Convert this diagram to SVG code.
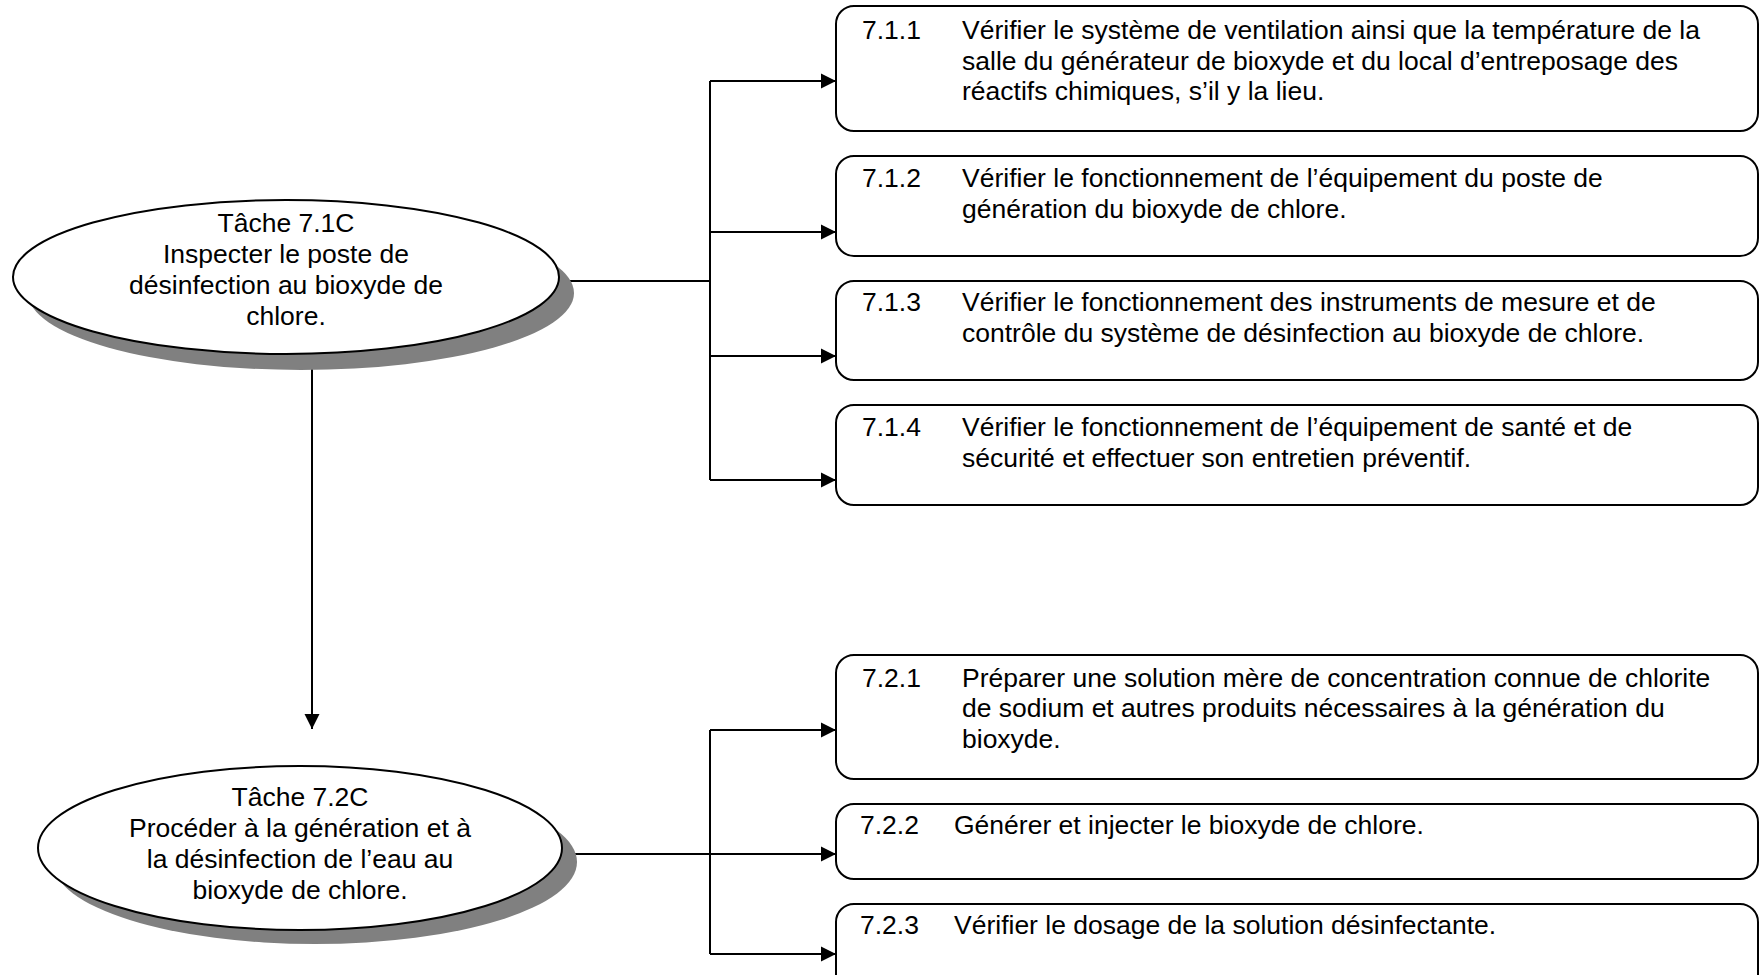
<svg xmlns="http://www.w3.org/2000/svg" width="1760" height="975" viewBox="0 0 1760 975">
  <defs>
    <marker id="arrow" markerWidth="16" markerHeight="16" refX="15" refY="8" orient="auto" markerUnits="userSpaceOnUse">
      <path d="M0,0.5 L15,8 L0,15.5 Z" fill="#000"/>
    </marker>
    <style>
      .box { fill: #fff; stroke: #000; stroke-width: 2; }
      .ell { fill: #fff; stroke: #000; stroke-width: 2; }
      .shadow { fill: #808080; stroke: none; }
      .conn { fill: none; stroke: #000; stroke-width: 2; }
      text { font-family: "Liberation Sans", Arial, sans-serif; font-size: 26.5px; fill: #000; }
      .mid { text-anchor: middle; }
    </style>
  </defs>
  <rect width="1760" height="975" fill="#fff"/>

  <!-- connectors -->
  <g id="connectors">
    <path class="conn" d="M559,281 H710"/>
    <path class="conn" d="M710,81 V480"/>
    <path class="conn" d="M710,81 H836" marker-end="url(#arrow)"/>
    <path class="conn" d="M710,232 H836" marker-end="url(#arrow)"/>
    <path class="conn" d="M710,356 H836" marker-end="url(#arrow)"/>
    <path class="conn" d="M710,480 H836" marker-end="url(#arrow)"/>
    <path class="conn" d="M312,354 V729" marker-end="url(#arrow)"/>
    <path class="conn" d="M562,854 H710"/>
    <path class="conn" d="M710,730 V954"/>
    <path class="conn" d="M710,730 H836" marker-end="url(#arrow)"/>
    <path class="conn" d="M710,854 H836" marker-end="url(#arrow)"/>
    <path class="conn" d="M710,954 H836" marker-end="url(#arrow)"/>
  </g>

  <!-- task 7.1C -->
  <g id="task-7-1C">
    <ellipse class="shadow" cx="301" cy="293" rx="273" ry="77"/>
    <ellipse class="ell" cx="286" cy="277" rx="273" ry="77"/>
    <text class="mid" x="286" y="232">Tâche 7.1C</text>
    <text class="mid" x="286" y="263">Inspecter le poste de</text>
    <text class="mid" x="286" y="294">désinfection au bioxyde de</text>
    <text class="mid" x="286" y="325">chlore.</text>
  </g>

  <!-- task 7.2C -->
  <g id="task-7-2C">
    <ellipse class="shadow" cx="315" cy="862" rx="262" ry="82"/>
    <ellipse class="ell" cx="300" cy="848" rx="262" ry="82"/>
    <text class="mid" x="300" y="806">Tâche 7.2C</text>
    <text class="mid" x="300" y="837">Procéder à la génération et à</text>
    <text class="mid" x="300" y="868">la désinfection de l’eau au</text>
    <text class="mid" x="300" y="899">bioxyde de chlore.</text>
  </g>

  <!-- sub-tasks 7.1.x -->
  <g id="step-7-1-1">
    <rect class="box" x="836" y="6" width="922" height="125" rx="18"/>
    <text x="862" y="39">7.1.1</text>
    <text x="962" y="39">Vérifier le système de ventilation ainsi que la température de la</text>
    <text x="962" y="70">salle du générateur de bioxyde et du local d’entreposage des</text>
    <text x="962" y="100">réactifs chimiques, s’il y la lieu.</text>
  </g>
  <g id="step-7-1-2">
    <rect class="box" x="836" y="156" width="922" height="100" rx="18"/>
    <text x="862" y="187">7.1.2</text>
    <text x="962" y="187">Vérifier le fonctionnement de l’équipement du poste de</text>
    <text x="962" y="218">génération du bioxyde de chlore.</text>
  </g>
  <g id="step-7-1-3">
    <rect class="box" x="836" y="281" width="922" height="99" rx="18"/>
    <text x="862" y="311">7.1.3</text>
    <text x="962" y="311">Vérifier le fonctionnement des instruments de mesure et de</text>
    <text x="962" y="342">contrôle du système de désinfection au bioxyde de chlore.</text>
  </g>
  <g id="step-7-1-4">
    <rect class="box" x="836" y="405" width="922" height="100" rx="18"/>
    <text x="862" y="436">7.1.4</text>
    <text x="962" y="436">Vérifier le fonctionnement de l’équipement de santé et de</text>
    <text x="962" y="467">sécurité et effectuer son entretien préventif.</text>
  </g>

  <!-- sub-tasks 7.2.x -->
  <g id="step-7-2-1">
    <rect class="box" x="836" y="655" width="922" height="124" rx="18"/>
    <text x="862" y="687">7.2.1</text>
    <text x="962" y="687">Préparer une solution mère de concentration connue de chlorite</text>
    <text x="962" y="717">de sodium et autres produits nécessaires à la génération du</text>
    <text x="962" y="748">bioxyde.</text>
  </g>
  <g id="step-7-2-2">
    <rect class="box" x="836" y="804" width="922" height="75" rx="18"/>
    <text x="860" y="834">7.2.2</text>
    <text x="954" y="834">Générer et injecter le bioxyde de chlore.</text>
  </g>
  <g id="step-7-2-3">
    <rect class="box" x="836" y="904" width="922" height="100" rx="18"/>
    <text x="860" y="934">7.2.3</text>
    <text x="954" y="934">Vérifier le dosage de la solution désinfectante.</text>
  </g>
</svg>
